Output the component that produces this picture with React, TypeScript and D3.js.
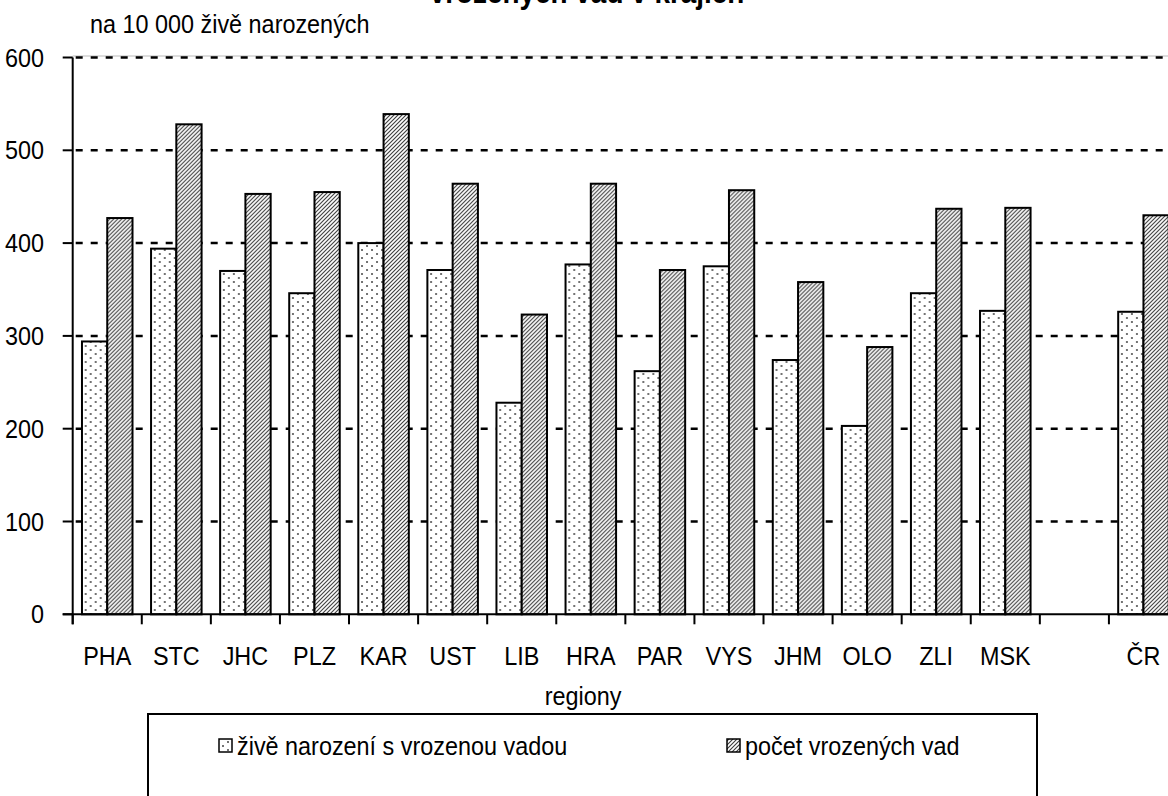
import React, { useEffect, useRef } from 'react';
import * as d3 from 'd3';

// regions, one empty slot before the national total
const categories = ['PHA', 'STC', 'JHC', 'PLZ', 'KAR', 'UST', 'LIB', 'HRA', 'PAR', 'VYS', 'JHM', 'OLO', 'ZLI', 'MSK', '', 'ČR'];
const liveBirthsWithDefect = [294, 394, 370, 346, 400, 371, 228, 377, 262, 375, 274, 203, 346, 327, null, 326];
const defectCount = [427, 528, 453, 455, 539, 464, 323, 464, 371, 457, 358, 288, 437, 438, null, 430];
const yTicks = [0, 100, 200, 300, 400, 500, 600];
const seriesNames = ['živě narození s vrozenou vadou', 'počet vrozených vad'];
const patterns = ['dots', 'hatch'];

const FONT = '"Liberation Sans", Arial, sans-serif';

const App = () => {
    const svgRef = useRef<SVGSVGElement | null>(null);

    useEffect(() => {
        const svg = d3.select(svgRef.current);
        svg.selectAll('*').remove();

        const left = 72.7, right = 1178, top = 57.5, bottom = 614.3;

        const defs = svg.append('defs');
        const dots = defs.append('pattern')
            .attr('id', 'dots')
            .attr('patternUnits', 'userSpaceOnUse')
            .attr('width', 10).attr('height', 8);
        dots.append('rect').attr('width', 10).attr('height', 8).attr('fill', 'white');
        dots.append('circle').attr('cx', 3).attr('cy', 2).attr('r', 1).attr('fill', '#444');
        dots.append('circle').attr('cx', 8).attr('cy', 6).attr('r', 1).attr('fill', '#444');

        const hatch = defs.append('pattern')
            .attr('id', 'hatch')
            .attr('patternUnits', 'userSpaceOnUse')
            .attr('width', 4).attr('height', 4);
        hatch.append('rect').attr('width', 4).attr('height', 4).attr('fill', 'white');
        hatch.append('path')
            .attr('d', 'M-1,1 l2,-2 M0,4 l4,-4 M3,5 l2,-2')
            .attr('stroke', '#3a3a3a')
            .attr('stroke-width', 1.1);

        const x = d3.scaleBand<number>()
            .domain(categories.map((_, i) => i))
            .range([left, right]);

        const inner = d3.scaleBand<string>()
            .domain(patterns)
            .range([0, x.bandwidth()])
            .paddingOuter(0.367);

        const y = d3.scaleLinear()
            .domain([0, 600])
            .range([bottom, top]);

        const label = (g: any, tx: number, ty: number, txt: string, size: number, anchor: string, weight = 'normal') =>
            g.append('text')
                .attr('transform', `translate(${tx},${ty}) scale(0.9,1)`)
                .attr('text-anchor', anchor)
                .style('font-family', FONT)
                .style('font-size', `${size}px`)
                .style('font-weight', weight)
                .attr('fill', 'black')
                .text(txt);

        // title (cut off at the top, as in the source)
        label(svg, 587, 3, 'vrozených vad v krajích', 31, 'middle', 'bold');
        label(svg, 90, 33, 'na 10 000 živě narozených', 26, 'start');

        // grid
        svg.append('line')
            .attr('x1', left).attr('x2', right)
            .attr('y1', y(600) - 1.5).attr('y2', y(600) - 1.5)
            .attr('stroke', '#bbb').attr('stroke-width', 1);
        svg.selectAll('.grid')
            .data(yTicks.slice(1))
            .join('line')
            .attr('class', 'grid')
            .attr('x1', left + 3).attr('x2', right)
            .attr('y1', d => y(d)).attr('y2', d => y(d))
            .attr('stroke', 'black')
            .attr('stroke-width', 2.5)
            .attr('stroke-dasharray', '7,8');

        // bars
        const groups = svg.selectAll('.grp')
            .data(categories.map((c, i) => ({ i, vals: [liveBirthsWithDefect[i], defectCount[i]] })))
            .join('g')
            .attr('class', 'grp')
            .attr('transform', d => `translate(${x(d.i)},0)`);

        groups.selectAll('rect')
            .data(d => d.vals.map((v, k) => ({ v, k })).filter(e => e.v !== null))
            .join('rect')
            .attr('x', e => inner(patterns[e.k]) as number)
            .attr('width', inner.bandwidth())
            .attr('y', e => y(e.v as number))
            .attr('height', e => bottom - y(e.v as number))
            .attr('fill', e => `url(#${patterns[e.k]})`)
            .attr('stroke', 'black')
            .attr('stroke-width', 2);

        // axes
        svg.append('line')
            .attr('x1', left).attr('x2', left)
            .attr('y1', top).attr('y2', bottom + 10)
            .attr('stroke', 'black').attr('stroke-width', 2);
        svg.append('line')
            .attr('x1', left - 10).attr('x2', right)
            .attr('y1', bottom).attr('y2', bottom)
            .attr('stroke', 'black').attr('stroke-width', 2);

        svg.selectAll('.ytick')
            .data(yTicks)
            .join('line')
            .attr('class', 'ytick')
            .attr('x1', left - 10).attr('x2', left)
            .attr('y1', d => y(d)).attr('y2', d => y(d))
            .attr('stroke', 'black').attr('stroke-width', 2);
        yTicks.forEach(t => label(svg, 44, y(t) + 9, String(t), 26, 'end'));

        const edges = categories.map((_, i) => x(i) as number).concat([right]);
        svg.selectAll('.xtick')
            .data(edges)
            .join('line')
            .attr('class', 'xtick')
            .attr('x1', d => d).attr('x2', d => d)
            .attr('y1', bottom).attr('y2', bottom + 10)
            .attr('stroke', 'black').attr('stroke-width', 2);
        categories.forEach((c, i) => {
            if (c) label(svg, (x(i) as number) + x.bandwidth() / 2, 665, c, 26, 'middle');
        });

        label(svg, 583, 705, 'regiony', 26, 'middle');

        // legend
        svg.append('rect')
            .attr('x', 148).attr('y', 714)
            .attr('width', 889).attr('height', 120)
            .attr('fill', 'white')
            .attr('stroke', 'black').attr('stroke-width', 2);

        const legendX = [219, 727];
        seriesNames.forEach((name, k) => {
            svg.append('rect')
                .attr('x', legendX[k]).attr('y', 739)
                .attr('width', 13).attr('height', 13)
                .attr('fill', `url(#${patterns[k]})`)
                .attr('stroke', 'black').attr('stroke-width', 1.5);
            label(svg, legendX[k] + 18, 755, name, 26, 'start');
        });
    }, []);

    return (
        <svg ref={svgRef} width={1168} height={796}
            style={{ position: 'absolute', left: 0, top: 0, background: 'white' }} />
    );
};

export default App;
